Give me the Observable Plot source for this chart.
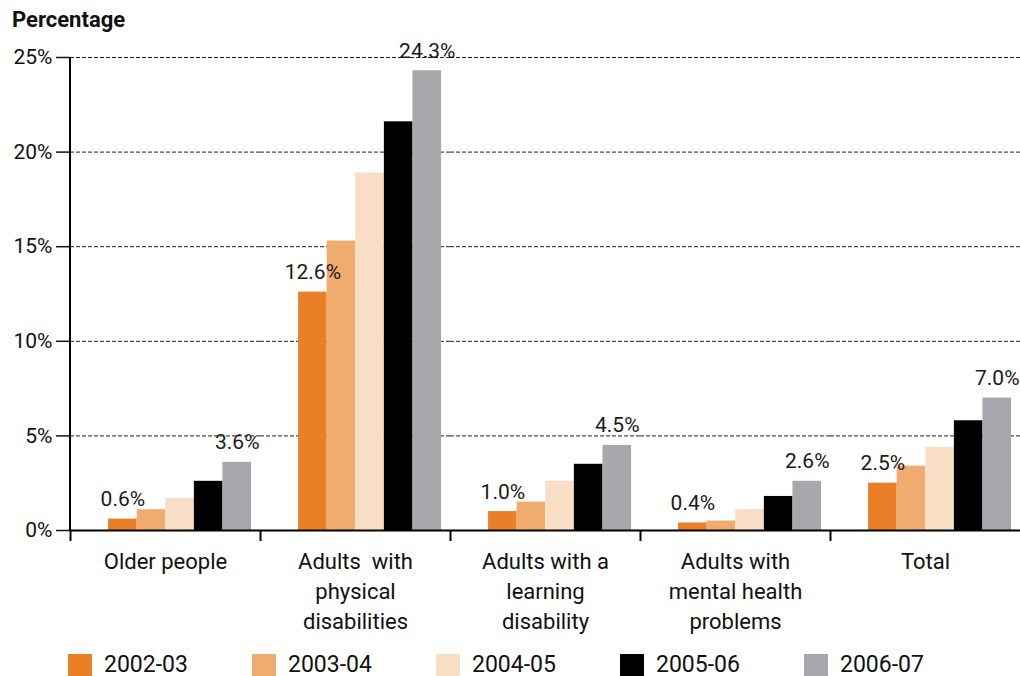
<!DOCTYPE html>
<html>
<head>
<meta charset="utf-8">
<script src="https://cdn.jsdelivr.net/npm/d3@7"></script>
<script src="https://cdn.jsdelivr.net/npm/@observablehq/plot@0.6"></script>
<style>
  html, body { margin: 0; padding: 0; background: #fff; overflow: hidden; }
  body { width: 1020px; height: 676px; position: relative; font-family: Roboto, "Noto Sans", sans-serif; color: #1a1a1a; }
  #title { position: absolute; left: 12px; top: 7px; font-size: 22px; font-weight: 700; color: #111; }
  #chart { position: absolute; left: 0; top: 0; width: 1020px; }
  #chart svg { max-width: none !important; }
  #legend { position: absolute; left: 0; top: 654px; width: 1020px; height: 22px; }
  .item { position: absolute; top: 0; display: flex; align-items: center; height: 22px; }
  .sw { width: 24px; height: 22px; margin-right: 12px; }
  .lab { font-size: 23px; line-height: 22px; color: #111; }
</style>
</head>
<body>
<div id="chart"></div>
<div id="title">Percentage</div>
<div id="legend"></div>
<script>
// ---- data ----
const groups = ["Older people", "Adults with physical disabilities", "Adults with a learning disability", "Adults with mental health problems", "Total"];
const groupLabels = ["Older people", "Adults  with\nphysical\ndisabilities", "Adults with a\nlearning\ndisability", "Adults with\nmental health\nproblems", "Total"];
const years = ["2002-03", "2003-04", "2004-05", "2005-06", "2006-07"];
const v2002 = [0.6, 12.6, 1.0, 0.4, 2.5];
const v2003 = [1.1, 15.3, 1.5, 0.5, 3.4];
const v2004 = [1.7, 18.9, 2.6, 1.1, 4.4];
const v2005 = [2.6, 21.6, 3.5, 1.8, 5.8];
const v2006 = [3.6, 24.3, 4.5, 2.6, 7.0];
const colors = ["#E97F27", "#F0AC6F", "#F8DEC5", "#000000", "#A7A8AB"];
const yTicks = [0, 5, 10, 15, 20, 25];
const labelledYears = ["2002-03", "2006-07"];

// ---- build table ----
const series = [v2002, v2003, v2004, v2005, v2006];
const rows = [];
groups.forEach((g, gi) => years.forEach((yr, yi) => rows.push({group: g, year: yr, value: series[yi][gi]})));
const labelRows = rows.filter(d => labelledYears.includes(d.year));
const labelMap = new Map(groups.map((g, i) => [g, groupLabels[i]]));

const plot = Plot.plot({
  width: 1020,
  height: 645,
  marginTop: 57,
  marginBottom: 115,
  marginLeft: 70,
  marginRight: 0,
  style: {fontFamily: "Roboto, 'Noto Sans', sans-serif", fontSize: "20px", color: "#1a1a1a", background: "transparent", maxWidth: "none"},
  fx: {domain: groups, paddingInner: 0, paddingOuter: 0, label: null},
  x: {domain: years, paddingInner: 0, paddingOuter: 0.822, align: 0.81, round: false, axis: null, label: null},
  y: {domain: [0, 25], label: null},
  color: {domain: years, range: colors},
  marks: [
    Plot.gridY(yTicks.slice(1), {stroke: "#222", strokeOpacity: 1, strokeDasharray: "4,2", strokeWidth: 1}),
    Plot.barY(rows, {fx: "group", x: "year", y: "value", fill: "year"}),
    Plot.ruleY([0], {stroke: "#000", strokeWidth: 2}),
    Plot.text(labelRows, {fx: "group", x: "year", y: "value", text: d => d.value.toFixed(1) + "%", dy: -13, lineAnchor: "bottom", fontSize: 21, fill: "#1a1a1a"}),
    Plot.axisY(yTicks, {label: null, tickSize: 14, tickPadding: 4, tickFormat: d => d + "%", fontSize: 21, color: "#111", strokeWidth: 1.5}),
    Plot.axisFx({anchor: "bottom", label: null, tickSize: 0, tickPadding: 17, tickFormat: g => labelMap.get(g), fontSize: 22, lineHeight: 1.36, color: "#111"}),
    Plot.axisFx({anchor: "bottom", label: null, tickSize: 11, tickFormat: () => "", dx: -95, strokeWidth: 2, color: "#000"})
  ]
});
plot.style.maxWidth = "none";
document.getElementById("chart").appendChild(plot);

// y-axis line from the library's scales
const ys = plot.scale("y");
const fxs = plot.scale("fx");
const x0 = fxs.range ? fxs.range[0] : 70;
d3.select(plot).append("line")
  .attr("x1", x0).attr("x2", x0)
  .attr("y1", ys.range[1]).attr("y2", ys.range[0] + 1)
  .attr("stroke", "#000").attr("stroke-width", 2);

// legend
const legend = document.getElementById("legend");
const legendLeft = [68, 252, 436, 620, 804];
years.forEach((yr, i) => {
  const it = document.createElement("div");
  it.className = "item";
  it.style.left = legendLeft[i] + "px";
  it.innerHTML = `<div class="sw" style="background:${colors[i]}"></div><div class="lab">${yr}</div>`;
  legend.appendChild(it);
});
</script>
</body>
</html>
